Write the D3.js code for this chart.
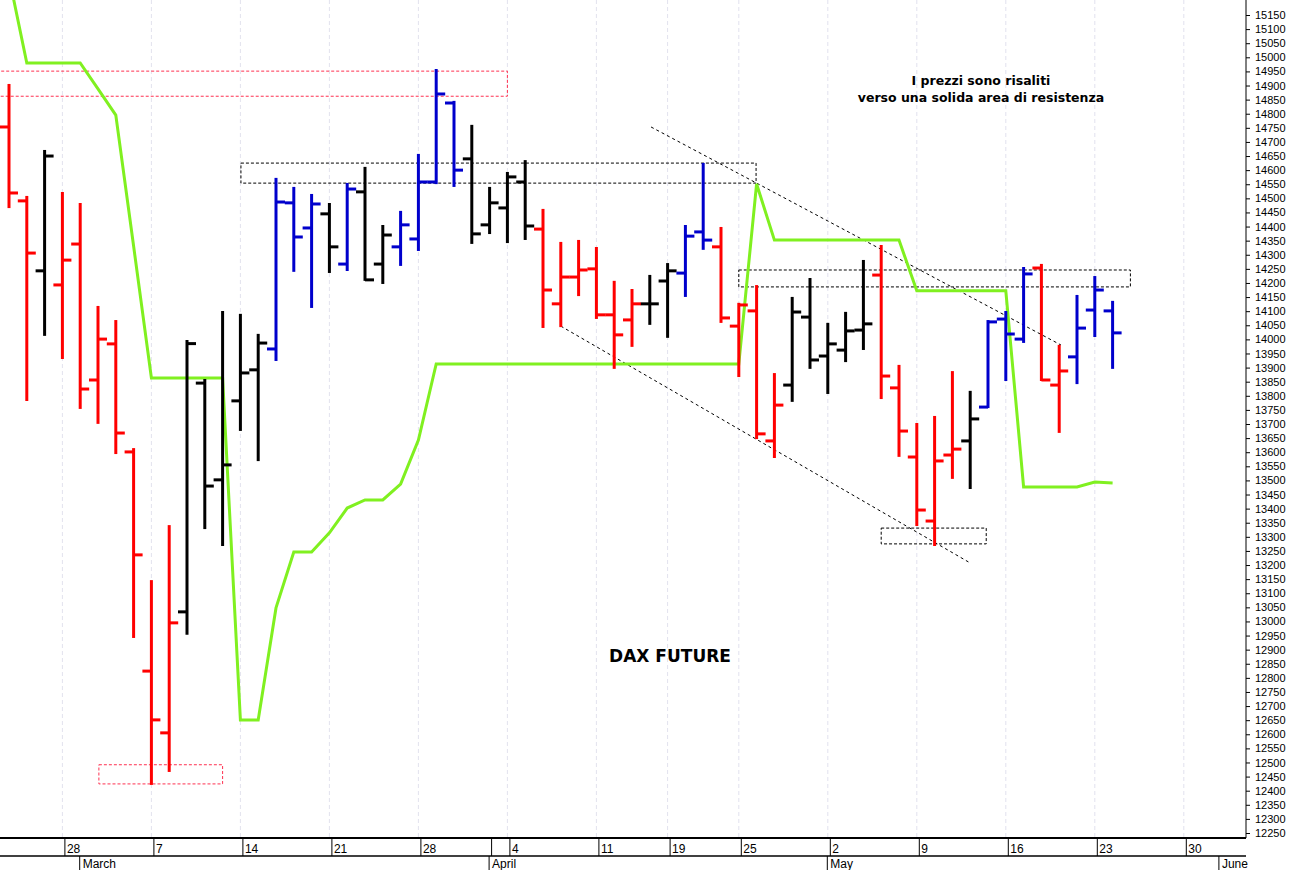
<!DOCTYPE html>
<html>
<head>
<meta charset="utf-8">
<script src="https://cdn.jsdelivr.net/npm/d3@7"></script>
<style>
  body { margin: 0; background: #fff; }
  svg { display: block; }
</style>
</head>
<body>
<svg id="chart" width="1293" height="870"></svg>
<script>
// OHLC per trading day (index 0 = 23 Feb), [open, high, low, close]
const bars = [
  [14753,14902,14469,14519],[14491,14505,13785,14306],[14243,14668,14016,14650],[14193,14519,13934,14281],
  [14338,14480,13757,13824],[13856,14115,13704,14001],[13984,14065,13597,13668],[13601,13611,12945,13236],
  [12824,13143,12424,12651],[12605,13338,12470,12995],[13034,13994,12956,13985],[13845,13856,13331,13480],
  [13502,14097,13271,13555],[13782,14087,13679,13881],[13892,14016,13572,13987],[13966,14569,13927,14487],
  [14484,14537,14243,14363],[14395,14512,14115,14480],[14445,14480,14239,14328],[14267,14551,14246,14533],
  [14523,14608,14211,14211],[14267,14402,14200,14370],[14328,14452,14264,14406],[14356,14654,14317,14558],
  [14558,14955,14554,14870],[14838,14842,14544,14600],[14640,14757,14342,14374],[14406,14537,14377,14484],
  [14466,14590,14345,14576],[14558,14632,14356,14402],[14391,14459,14044,14175],[14126,14342,14047,14221],
  [14221,14349,14157,14246],[14250,14324,14076,14087],[14087,14204,13899,14016],[14069,14175,13977,14126],
  [14126,14225,14055,14126],[14207,14267,14009,14243],[14235,14402,14154,14366],[14381,14622,14321,14352],
  [14328,14395,14062,14076],[14047,14126,13870,14122],[14101,14189,13650,13665],[13640,13877,13583,13767],
  [13838,14147,13782,14097],[14079,14214,13899,13927],[13941,14055,13810,13984],[13962,14094,13923,14030],
  [14033,14278,13966,14055],[14228,14331,13792,13870],[13828,13906,13587,13675],[13583,13700,13342,13395],
  [13356,13725,13271,13569],[13590,13884,13509,13611],[13640,13814,13473,13718],[13760,14065,13760,14062],
  [14072,14097,13856,14019],[14001,14253,13991,14232],[14253,14264,13856,13856],[13838,13977,13672,13888],
  [13938,14154,13845,14040],[14104,14221,14012,14175],[14101,14133,13899,14023]
];
const barColors = "rrkrrrrrrrkkkkkbbbkbkkbbbbkkkkrrrrrrkkbbrrrrkkkkkrrrrrkbbbrrbbb".split("");

// green stop line, one value per trading day
const stopLine = [
  15285,14980,14980,14980,14980,14888,14795,14331,13863,13863,13863,13863,13863,12651,12651,13048,
  13246,13246,13314,13402,13431,13431,13487,13643,13913,13913,13913,13913,13913,13913,13913,13913,
  13913,13913,13913,13913,13913,13913,13913,13913,13913,13913,14551,14352,14352,14352,14352,14352,
  14352,14352,14352,14172,14172,14172,14172,14172,14172,13477,13477,13477,13477,13494,13491
];

const dayTicks = [3,8,13,18,23,28,33,37,41,46,51,56,61,66];
const dayLabels = ["28","7","14","21","28","4","11","19","25","2","9","16","23","30"];
const monthTicks = [4,27,46,68];
const monthLabels = ["March","April","May","June"];

// annotation boxes [i0, i1, priceTop, priceBottom, colour]
const boxes = [
  [-1, 28, 14951, 14862, "#ff3050"],
  [5.05, 12, 12492, 12424, "#ff3050"],
  [13.03, 41.97, 14625, 14554, "#000"],
  [41, 63, 14246, 14186, "#000"],
  [49, 54.9, 13331, 13275, "#000"]
];
const trendLines = [
  [36.07, 14753, 59.1, 13980],
  [31.0, 14047, 53.9, 13211]
];

const plotRight = 1240, plotBottom = 838;
const svg = d3.select("#chart");
const x = d3.scaleLinear().domain([0, 68]).range([9, 9 + 17.8 * 68]);
const y = d3.scaleLinear().domain([12250, 15150]).range([833, 15]);
const colorOf = { r: "#ff0000", b: "#0000cc", k: "#000000" };

svg.append("defs").append("clipPath").attr("id", "plot")
  .append("rect").attr("x", 0).attr("y", 0).attr("width", plotRight).attr("height", plotBottom);

const g = svg.append("g").attr("clip-path", "url(#plot)");

// vertical grid
g.selectAll(".grid").data(dayTicks).enter().append("line")
  .attr("x1", d => x(d)).attr("x2", d => x(d)).attr("y1", 0).attr("y2", plotBottom)
  .attr("stroke", "#e2e2ee").attr("stroke-dasharray", "4,3").attr("stroke-width", 1);

// boxes
g.selectAll(".box").data(boxes).enter().append("rect")
  .attr("x", d => x(d[0])).attr("width", d => x(d[1]) - x(d[0]))
  .attr("y", d => y(d[2])).attr("height", d => y(d[3]) - y(d[2]))
  .attr("fill", "none").attr("stroke", d => d[4]).attr("stroke-dasharray", "3,2").attr("stroke-width", 1);

g.selectAll(".trend").data(trendLines).enter().append("line")
  .attr("x1", d => x(d[0])).attr("y1", d => y(d[1])).attr("x2", d => x(d[2])).attr("y2", d => y(d[3]))
  .attr("stroke", "#000").attr("stroke-dasharray", "3,3").attr("stroke-width", 1);

// green line
g.append("path").datum(stopLine)
  .attr("d", d3.line().x((d, i) => x(i)).y(d => y(d)))
  .attr("fill", "none").attr("stroke", "#80f020").attr("stroke-width", 3);

// OHLC bars
const bg = g.selectAll(".bar").data(bars).enter().append("g")
  .attr("stroke", (d, i) => colorOf[barColors[i]]).attr("stroke-width", 3);
bg.append("line").attr("x1", (d, i) => x(i)).attr("x2", (d, i) => x(i))
  .attr("y1", d => y(d[1]) - 1).attr("y2", d => y(d[2]) + 1);
bg.append("line").attr("x1", (d, i) => x(i) - 9).attr("x2", (d, i) => x(i))
  .attr("y1", d => y(d[0])).attr("y2", d => y(d[0]));
bg.append("line").attr("x1", (d, i) => x(i)).attr("x2", (d, i) => x(i) + 9)
  .attr("y1", d => y(d[3])).attr("y2", d => y(d[3]));

// texts
const txtFont = "DejaVu Sans, Verdana, sans-serif";
svg.append("text").attr("x", 981).attr("y", 85).attr("text-anchor", "middle")
  .attr("font-family", txtFont).attr("font-weight", "bold").attr("font-size", 12.5)
  .text("I prezzi sono risaliti");
svg.append("text").attr("x", 981).attr("y", 102).attr("text-anchor", "middle")
  .attr("font-family", txtFont).attr("font-weight", "bold").attr("font-size", 12.5)
  .text("verso una solida area di resistenza");
svg.append("text").attr("x", 670).attr("y", 662).attr("text-anchor", "middle")
  .attr("font-family", txtFont).attr("font-weight", "bold").attr("font-size", 17)
  .text("DAX FUTURE");

// right axis
const yAxis = svg.append("g").attr("transform", `translate(${plotRight + 6},0)`)
  .call(d3.axisRight(y).tickValues(d3.range(12250, 15151, 50)).tickSize(4).tickPadding(5).tickFormat(d3.format("d")));
yAxis.select(".domain").remove();
yAxis.selectAll("text").attr("font-family", "Liberation Sans Narrow, Arial Narrow, sans-serif").attr("font-size", 11);
svg.append("line").attr("x1", plotRight + 6).attr("x2", plotRight + 6).attr("y1", 0).attr("y2", plotBottom)
  .attr("stroke", "#000").attr("stroke-width", 1);

// bottom axis
svg.append("line").attr("x1", 0).attr("x2", plotRight + 6).attr("y1", plotBottom).attr("y2", plotBottom)
  .attr("stroke", "#000").attr("stroke-width", 2);
svg.append("line").attr("x1", 0).attr("x2", plotRight + 6).attr("y1", 856).attr("y2", 856)
  .attr("stroke", "#000").attr("stroke-width", 1.5);
const dayAxis = svg.append("g").attr("transform", `translate(0,${plotBottom})`)
  .call(d3.axisBottom(x).tickValues(dayTicks).tickSize(18).tickPadding(0).tickFormat((d, i) => dayLabels[i]));
dayAxis.select(".domain").remove();
dayAxis.selectAll(".tick line").attr("transform", "translate(2,0)");
dayAxis.selectAll("text").attr("text-anchor", "start").attr("x", 4).attr("y", 6).attr("dy", "0.71em")
  .attr("font-family", "Liberation Sans Narrow, Arial Narrow, sans-serif").attr("font-size", 12);
const monthAxis = svg.append("g").attr("transform", "translate(0,856)")
  .call(d3.axisBottom(x).tickValues(monthTicks).tickSize(14).tickPadding(0).tickFormat((d, i) => monthLabels[i]));
monthAxis.select(".domain").remove();
monthAxis.selectAll(".tick line").attr("transform", "translate(-1,0)");
monthAxis.selectAll("text").attr("text-anchor", "start").attr("x", 2).attr("y", 3).attr("dy", "0.71em")
  .attr("font-family", "Liberation Sans Narrow, Arial Narrow, sans-serif").attr("font-size", 12);
// month boundary separator in day row
svg.append("line").attr("x1", x(27) + 2).attr("x2", x(27) + 2).attr("y1", plotBottom).attr("y2", 856).attr("stroke", "#000");
</script>
</body>
</html>
